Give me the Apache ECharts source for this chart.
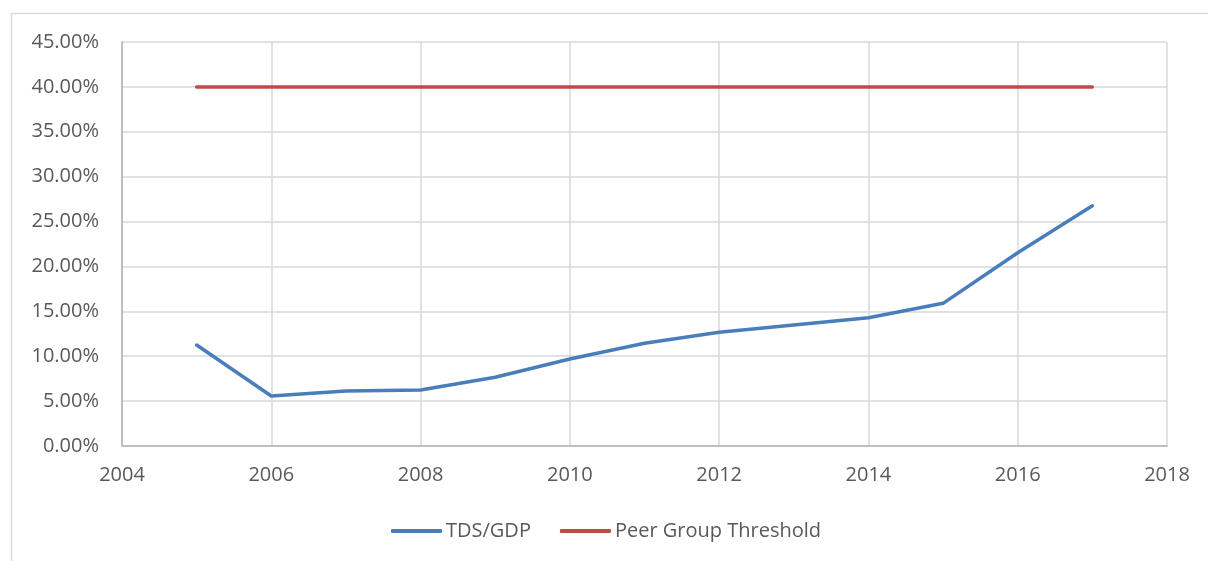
<!DOCTYPE html>
<html lang="en" style="height: 100%">
<head>
    <meta charset="utf-8">
    <title>TDS/GDP</title>
    <script src="https://cdn.jsdelivr.net/npm/echarts@6/dist/echarts.min.js"></script>
</head>
<body style="height: 100%; margin: 0; background: #fff">
    <div id="main" style="width: 1208px; height: 561px"></div>
    <script>
        // data (percent)
        const years = [2005, 2006, 2007, 2008, 2009, 2010, 2011, 2012, 2013, 2014, 2015, 2016, 2017];
        const tdsGdp = [11.25, 5.57, 6.12, 6.24, 7.65, 9.69, 11.44, 12.66, 13.47, 14.29, 15.89, 21.53, 26.76];
        const threshold = [40, 40, 40, 40, 40, 40, 40, 40, 40, 40, 40, 40, 40];
        const seriesNames = ['TDS/GDP', 'Peer Group Threshold'];

        const font = '"Open Sans", "Liberation Sans", sans-serif';
        const chart = echarts.init(document.getElementById('main'), null, { renderer: 'canvas' });

        chart.setOption({
            animation: false,
            textStyle: { fontFamily: font },
            // outer chart frame (only top & left edges are visible in the crop)
            graphic: [{
                type: 'rect',
                shape: { x: 11.5, y: 13.5, width: 1400, height: 700 },
                style: { fill: 'none', stroke: '#d9d9d9', lineWidth: 1.5 },
                silent: true
            }],
            grid: { left: 122, right: 41, top: 42, bottom: 115 },
            legend: {
                left: 391,
                top: 521,
                padding: 0,
                itemWidth: 51,
                itemHeight: 4,
                itemGap: 29,
                icon: 'roundRect',
                textStyle: { fontFamily: font, fontSize: 20, color: '#595959', padding: [0, 0, 0, -1] },
                data: seriesNames
            },
            xAxis: {
                type: 'value',
                min: 2004,
                max: 2018,
                interval: 2,
                axisLine: { show: true, lineStyle: { color: '#bfbfbf', width: 2 } },
                axisTick: { show: false },
                axisLabel: {
                    margin: 19,
                    fontSize: 20,
                    color: '#595959',
                    formatter: v => String(v)
                },
                splitLine: { show: true, lineStyle: { color: '#d9d9d9', width: 1.5 } }
            },
            yAxis: {
                type: 'value',
                min: 0,
                max: 45,
                interval: 5,
                axisLine: { show: true, lineStyle: { color: '#bfbfbf', width: 2 } },
                axisTick: { show: false },
                axisLabel: {
                    margin: 23,
                    fontSize: 20,
                    color: '#595959',
                    formatter: v => v.toFixed(2) + '%'
                },
                splitLine: { show: true, lineStyle: { color: '#d9d9d9', width: 1.5 } }
            },
            series: [
                {
                    name: seriesNames[0],
                    type: 'line',
                    showSymbol: false,
                    data: years.map((y, i) => [y, tdsGdp[i]]),
                    itemStyle: { color: '#4a7ebb' },
                    lineStyle: { color: '#4a7ebb', width: 3.5, cap: 'round', join: 'round' }
                },
                {
                    name: seriesNames[1],
                    type: 'line',
                    showSymbol: false,
                    data: years.map((y, i) => [y, threshold[i]]),
                    itemStyle: { color: '#be4b48' },
                    lineStyle: { color: '#be4b48', width: 3.5, cap: 'round', join: 'round' }
                }
            ]
        });
    </script>
</body>
</html>
